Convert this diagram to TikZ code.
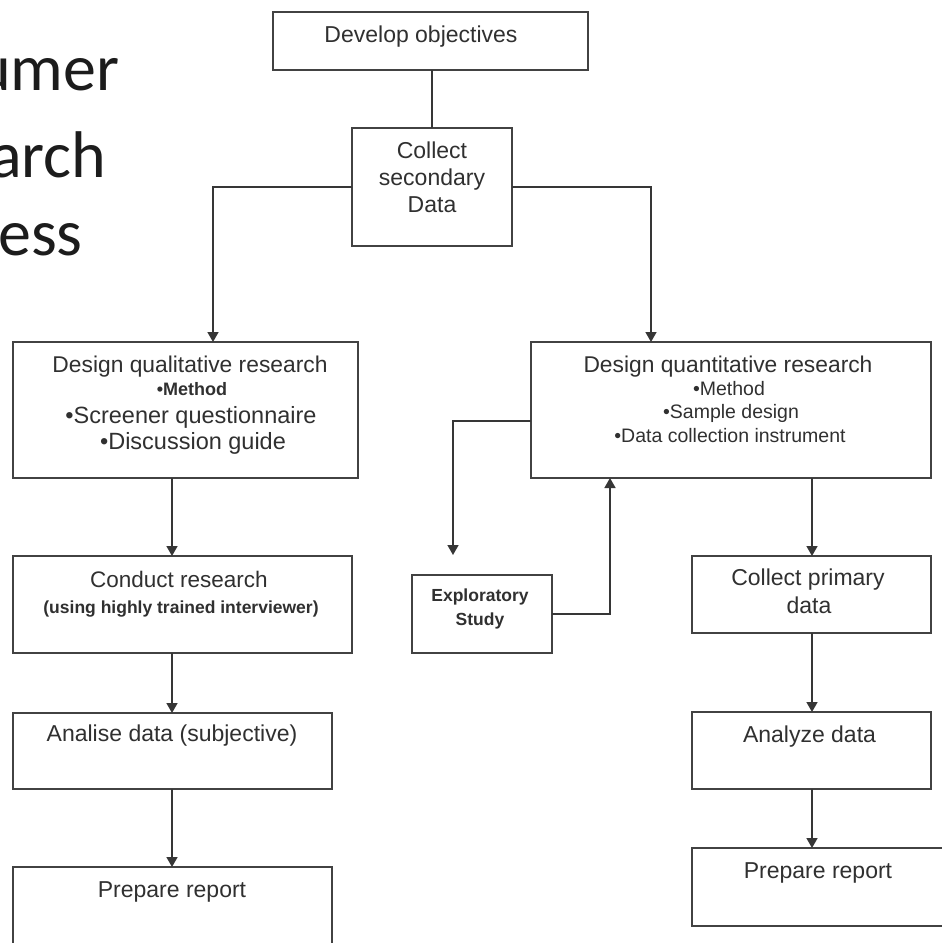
\documentclass[tikz,border=0pt]{standalone}
\usepackage{fontspec}
\setmainfont{Liberation Sans}
\newfontfamily\titlefont{Carlito}
\usetikzlibrary{arrows.meta}

\definecolor{boxgray}{HTML}{424242}
\definecolor{linkgray}{HTML}{363636}
\definecolor{txtgray}{HTML}{303030}
\definecolor{titlecol}{HTML}{1C1C1C}

\newcommand{\fs}[1]{\fontsize{#1}{#1}\selectfont}

\begin{document}
\begin{tikzpicture}[x=1pt,y=-1pt,
  box/.style={draw=boxgray, line width=1.8pt, rectangle, inner sep=0pt, outer sep=0pt},
  lbl/.style={anchor=base, text=txtgray, inner sep=0pt, font=\fs{23}},
  lblsm/.style={lbl, font=\fs{19.5}},
  lblbf/.style={lbl, font=\bfseries\fs{17.5}},
  ttl/.style={anchor=base west, inner sep=0pt, text=titlecol, font=\titlefont\fs{66}},
  link/.style={draw=linkgray, line width=1.6pt},
  arr/.style={link, -{Triangle[length=10pt,width=11pt]}}]

\useasboundingbox (0,0) rectangle (942,943);
\clip (0,0) rectangle (942,943);
\fill[white] (0,0) rectangle (942,943);

% heading, running off the left edge
\node[ttl] (t1) at (-24,90) {umer};
\node[ttl] (t2) at (-10,177) {arch};
\node[ttl] (t3) at (-2,255) {ess};

% boxes
\node[box, minimum width=315pt, minimum height=58pt]  (dev)     at (430.5,41)  {};
\node[box, minimum width=160pt, minimum height=118pt] (second)  at (432,187)   {};
\node[box, minimum width=345pt, minimum height=136pt] (qual)    at (185.5,410) {};
\node[box, minimum width=400pt, minimum height=136pt] (quant)   at (731,410)   {};
\node[box, minimum width=339pt, minimum height=97pt]  (conduct) at (182.5,604.5) {};
\node[box, minimum width=319pt, minimum height=76pt]  (analise) at (172.5,751) {};
\node[box, minimum width=319pt, minimum height=93pt]  (prepL)   at (172.5,913.5) {};
\node[box, minimum width=140pt, minimum height=78pt]  (explor)  at (482,614)   {};
\node[box, minimum width=239pt, minimum height=77pt]  (primary) at (811.5,594.5) {};
\node[box, minimum width=239pt, minimum height=77pt]  (analyze) at (811.5,750.5) {};
\node[box, minimum width=252pt, minimum height=78pt]  (prepR)   at (818,887)   {};

% box texts
\node[lbl] (devT) at (421,42) {Develop objectives};
\node[lbl] (secT1) at (432,158) {Collect};
\node[lbl] (secT2) at (432,185) {secondary};
\node[lbl] (secT3) at (432,212) {Data};

\node[lbl, font=\fs{22.8}] (qualT1) at (190,372) {Design qualitative research};
\node[lbl, font=\bfseries\fs{18}] (qualT2) at (192,395) {•Method};
\node[lbl, font=\fs{23.5}] (qualT3) at (191,423) {•Screener questionnaire};
\node[lbl, font=\fs{23.5}] (qualT4) at (193,449) {•Discussion guide};

\node[lbl, font=\fs{22.8}] (quantT1) at (728,372) {Design quantitative research};
\node[lblsm] (quantT2) at (729,395) {•Method};
\node[lblsm] (quantT3) at (731,418) {•Sample design};
\node[lblsm] (quantT4) at (730,442) {•Data collection instrument};

\node[lbl, font=\fs{22.5}] (condT1) at (179,587) {Conduct research};
\node[lblbf] (condT2) at (181,613) {(using highly trained interviewer)};
\node[lbl] (analiseT) at (172,741) {Analise data (subjective)};
\node[lbl] (prepLT) at (172,897) {Prepare report};

\node[lblbf] (explorT1) at (480,601) {Exploratory};
\node[lblbf] (explorT2) at (480,625) {Study};

\node[lbl] (primT1) at (808,585) {Collect primary};
\node[lbl] (primT2) at (809,613) {data};
\node[lbl] (analyzeT) at (809.5,742) {Analyze data};
\node[lbl] (prepRT) at (818,878) {Prepare report};

% connector anchor points
\coordinate (qualIn)   at (213,342);
\coordinate (quantIn)  at (651,342);
\coordinate (quantOut) at (531,421);
\coordinate (explorIn) at (453,555);
\coordinate (quantUp)  at (610,478);
\coordinate (lcol)     at (172,0);
\coordinate (rcol)     at (812,0);

% connectors
\draw[link] (second.north |- dev.south) -- (second.north);
\draw[arr] (second.west) -| (qualIn);
\draw[arr] (second.east) -| (quantIn);
\draw[arr] (quantOut) -| (explorIn);
\draw[arr] (explor.east) -| (quantUp);

\draw[arr] (qual.south -| lcol) -- (conduct.north -| lcol);
\draw[arr] (conduct.south -| lcol) -- (analise.north -| lcol);
\draw[arr] (analise.south -| lcol) -- (prepL.north -| lcol);

\draw[arr] (quant.south -| rcol) -- (primary.north -| rcol);
\draw[arr] (primary.south -| rcol) -- (analyze.north -| rcol);
\draw[arr] (analyze.south -| rcol) -- (prepR.north -| rcol);
\end{tikzpicture}
\end{document}
